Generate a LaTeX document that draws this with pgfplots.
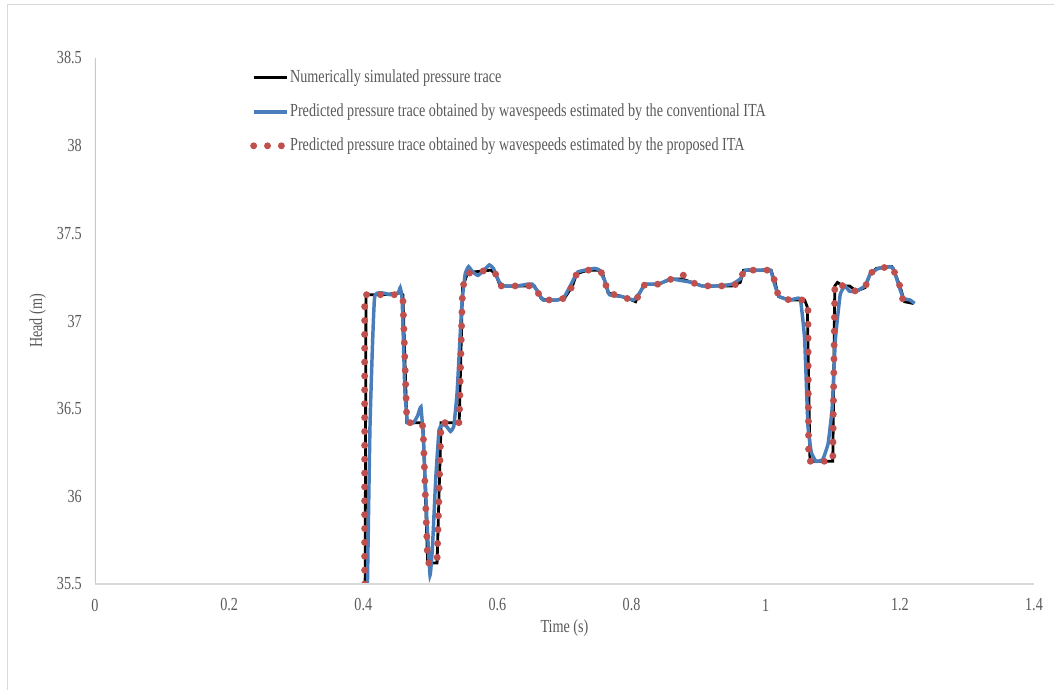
\documentclass[border=0pt]{standalone}
\usepackage{pgfplots}
\pgfplotsset{compat=1.18}
\usepackage{fontspec}
\setmainfont{Liberation Serif}[FakeStretch=0.77]
\definecolor{txt}{RGB}{89,89,89}
\definecolor{lineblue}{RGB}{74,126,187}
\definecolor{dotred}{RGB}{192,80,77}
\definecolor{framegray}{RGB}{217,217,217}
\definecolor{yaxisblue}{RGB}{185,203,232}
\begin{document}
\begin{tikzpicture}
\useasboundingbox (-71.25pt,-79.5pt) rectangle (719.25pt,438pt);
\draw[framegray, line width=1.1pt] (-65.6pt,-79.5pt) -- (-65.6pt,434.6pt) -- (719.25pt,434.6pt);
\begin{axis}[
  at={(0pt,0pt)}, anchor=south west, scale only axis,
  width=704.25pt, height=394.5pt,
  xmin=0, xmax=1.4, ymin=35.5, ymax=38.5,
  xtick={0,0.2,0.4,0.6,0.8,1,1.2,1.4},
  xticklabels={0,0.2,0.4,0.6,0.8,1,1.2,1.4},
  ytick={35.5,36,36.5,37,37.5,38,38.5},
  yticklabels={35.5,36,36.5,37,37.5,38,38.5},
  major tick length=0pt,
  axis line style={draw=none},
  tick label style={font=\fontsize{13.8}{16}\selectfont, text=txt, inner sep=0pt},
  xticklabel style={anchor=center, yshift=-15.75pt},
  yticklabel style={anchor=east, xshift=-9.75pt},
  xlabel={Time (s)}, ylabel={Head (m)},
  every axis x label/.style={at={(axis description cs:0.5,0)}, anchor=center, yshift=-33pt, font=\fontsize{13.8}{16}\selectfont, text=txt},
  every axis y label/.style={at={(axis description cs:0,0.5)}, xshift=-43pt, rotate=90, anchor=center, font=\fontsize{13.8}{16}\selectfont, text=txt},
  legend style={at={(rel axis cs:0.165,0.9774)}, anchor=north west, draw=none, fill=none,
    font=\fontsize{13.8}{16}\selectfont, text=txt, row sep=14pt, inner sep=0pt,
    nodes={inner sep=0pt, text height=9pt, text depth=2.5pt},
    /tikz/every even column/.append style={column sep=1pt}},
  legend cell align=left,
  legend image code/.code={\draw[#1] (0pt,0pt) -- (24.75pt,0pt);},
]
\addplot[black, line width=2.1pt] coordinates {
(0.402,34.5)(0.404,37.15)(0.43,37.15)(0.455,37.16)(0.459,37.15)(0.465,36.42)(0.485,36.42)(0.489,36.40)
(0.496,35.62)(0.510,35.62)(0.516,36.42)(0.530,36.42)(0.543,36.42)(0.548,37.19)(0.555,37.27)(0.565,37.28)
(0.590,37.29)(0.597,37.27)(0.604,37.2)(0.63,37.2)(0.655,37.2)(0.665,37.13)(0.672,37.12)(0.69,37.12)
(0.70,37.13)(0.712,37.2)(0.718,37.27)(0.735,37.29)(0.75,37.29)(0.757,37.27)(0.765,37.16)(0.785,37.14)
(0.80,37.12)(0.806,37.11)(0.812,37.16)(0.82,37.21)(0.84,37.21)(0.86,37.24)(0.875,37.24)(0.89,37.22)
(0.905,37.2)(0.93,37.2)(0.95,37.2)(0.962,37.22)(0.967,37.29)(0.99,37.29)(1.008,37.29)(1.014,37.22)
(1.019,37.14)(1.035,37.12)(1.058,37.12)(1.062,37.08)(1.066,36.2)(1.10,36.2)(1.103,37.2)(1.107,37.22)
(1.115,37.2)(1.125,37.2)(1.135,37.17)(1.148,37.19)(1.156,37.27)(1.165,37.3)(1.188,37.31)(1.193,37.27)
(1.20,37.2)(1.207,37.11)(1.22,37.1)
};
\addlegendentry{Numerically simulated pressure trace}
\addplot[lineblue, line width=2.6pt, smooth, tension=0.2] coordinates {
(0.405,35.2)(0.410,36.4)(0.417,37.14)(0.44,37.15)(0.452,37.16)(0.455,37.19)(0.458,37.12)(0.462,36.6)
(0.466,36.42)(0.475,36.42)(0.481,36.46)(0.486,36.51)(0.49,36.3)(0.495,35.85)(0.4995,35.55)(0.503,35.7)
(0.508,36.1)(0.513,36.38)(0.518,36.41)(0.524,36.4)(0.53,36.37)(0.535,36.40)(0.54,36.6)(0.547,37.1)
(0.552,37.27)(0.557,37.31)(0.563,37.28)(0.571,37.26)(0.58,37.29)(0.588,37.32)(0.594,37.3)(0.603,37.22)
(0.61,37.2)(0.63,37.2)(0.645,37.21)(0.652,37.21)(0.66,37.17)(0.668,37.12)(0.69,37.12)(0.70,37.14)
(0.71,37.21)(0.72,37.28)(0.745,37.3)(0.752,37.29)(0.76,37.23)(0.767,37.15)(0.785,37.14)(0.803,37.12)
(0.812,37.16)(0.82,37.21)(0.84,37.21)(0.858,37.24)(0.875,37.23)(0.89,37.22)(0.905,37.2)(0.93,37.2)
(0.95,37.21)(0.962,37.24)(0.97,37.29)(0.99,37.29)(1.007,37.29)(1.014,37.2)(1.02,37.14)(1.035,37.12)
(1.048,37.13)(1.052,37.12)(1.058,36.9)(1.063,36.4)(1.068,36.25)(1.075,36.2)(1.085,36.21)(1.093,36.3)
(1.099,36.5)(1.104,36.9)(1.111,37.15)(1.118,37.2)(1.125,37.17)(1.135,37.17)(1.148,37.2)(1.156,37.27)
(1.168,37.3)(1.185,37.31)(1.19,37.3)(1.197,37.22)(1.205,37.13)(1.215,37.12)(1.222,37.1)
};
\addlegendentry{Predicted pressure trace obtained by wavespeeds estimated by the conventional ITA}
\addplot[dotred, line width=5.2pt, line cap=round, dash pattern=on 0pt off 10.4pt] coordinates {
(0.402,35.5)(0.402,37.15)(0.43,37.15)(0.455,37.15)(0.459,37.14)(0.465,36.42)(0.485,36.42)(0.489,36.40)
(0.496,35.62)(0.510,35.62)(0.516,36.42)(0.530,36.42)(0.543,36.42)(0.548,37.19)(0.555,37.27)(0.565,37.28)
(0.590,37.29)(0.597,37.27)(0.604,37.2)(0.63,37.2)(0.655,37.2)(0.665,37.13)(0.672,37.12)(0.69,37.12)
(0.70,37.13)(0.712,37.2)(0.718,37.27)(0.735,37.29)(0.75,37.29)(0.757,37.27)(0.765,37.16)(0.785,37.14)
(0.80,37.12)(0.806,37.11)(0.812,37.16)(0.82,37.21)(0.84,37.21)(0.86,37.24)(0.876,37.265)(0.89,37.22)
(0.905,37.2)(0.93,37.2)(0.95,37.2)(0.962,37.22)(0.967,37.29)(0.99,37.29)(1.008,37.29)(1.014,37.22)
(1.019,37.14)(1.035,37.12)(1.058,37.12)(1.063,37.08)(1.064,36.2)(1.10,36.2)(1.103,37.2)(1.107,37.22)
(1.115,37.2)(1.125,37.18)(1.135,37.17)(1.148,37.19)(1.156,37.27)(1.165,37.3)(1.188,37.31)(1.193,37.27)
(1.20,37.2)(1.205,37.11)(1.215,37.11)
};
\addlegendentry{Predicted pressure trace obtained by wavespeeds estimated by the proposed ITA}
\draw[yaxisblue, line width=1pt] (rel axis cs:0,0) -- (rel axis cs:0,1);
\draw[framegray, line width=1pt] (rel axis cs:0,0) -- (rel axis cs:1,0);
\end{axis}
\end{tikzpicture}
\end{document}
